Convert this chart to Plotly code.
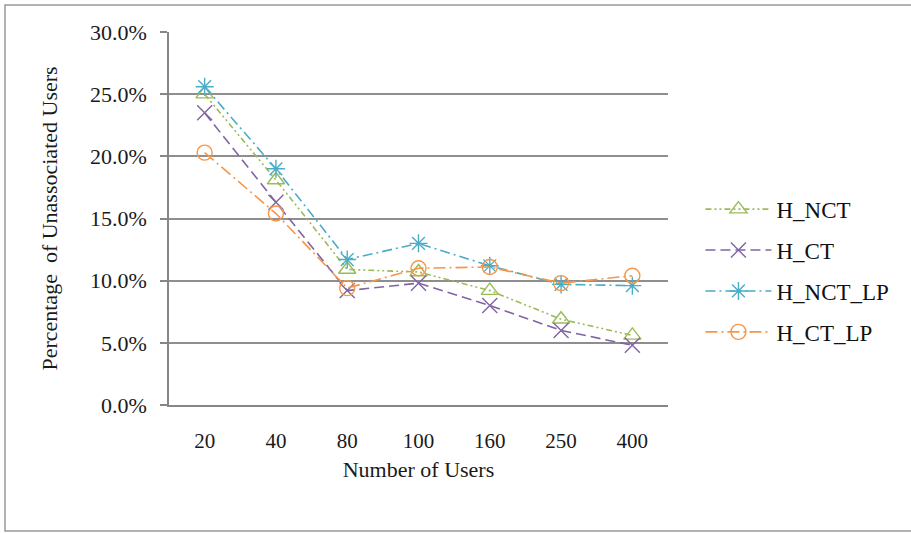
import plotly.graph_objects as go

# Number of users (categorical x axis)
users = ["20", "40", "80", "100", "160", "250", "400"]

# Fraction of unassociated users per scheme
h_nct = [0.250, 0.181, 0.109, 0.107, 0.092, 0.069, 0.056]
h_ct = [0.235, 0.163, 0.092, 0.098, 0.080, 0.060, 0.048]
h_nct_lp = [0.256, 0.190, 0.117, 0.130, 0.112, 0.097, 0.096]
h_ct_lp = [0.203, 0.154, 0.094, 0.110, 0.111, 0.098, 0.104]

y_ticks = [0.0, 0.05, 0.10, 0.15, 0.20, 0.25, 0.30]

W, H = 911, 533
L, R, T, B = 169, 243, 32, 128

series = [
    ("H_NCT", h_nct, "#9BBB59", "triangle-up-open", "6px,3px,2px,3px,2px,3px"),
    ("H_CT", h_ct, "#8064A2", "x-thin-open", "10px,5px"),
    ("H_NCT_LP", h_nct_lp, "#4BACC6", "asterisk-open", "10px,4px,2px,4px"),
    ("H_CT_LP", h_ct_lp, "#F79646", "circle-open", "12px,4px,2px,4px"),
]

fig = go.Figure()
for i, (name, vals, color, symbol, dash) in enumerate(series):
    fig.add_trace(go.Scatter(
        x=users, y=vals, name=name, mode="lines+markers",
        legendgroup=f"g{i}",
        line=dict(color=color, width=1.6, dash=dash),
        marker=dict(symbol=symbol, size=15,
                    line=dict(color=color, width=1.4), color=color),
    ))

serif = "Liberation Serif"

fig.update_layout(
    width=W, height=H,
    margin=dict(l=L, r=R, t=T, b=B),
    paper_bgcolor="white", plot_bgcolor="white",
    font=dict(family=serif, color="#1a1a1a", size=21),
    showlegend=True,
    legend=dict(
        x=1.065, y=0.36, xanchor="left", yanchor="middle",
        font=dict(family=serif, size=23, color="#111111"),
        traceorder="grouped", tracegroupgap=8,
        itemwidth=66, bgcolor="rgba(0,0,0,0)",
    ),
    xaxis=dict(
        type="category", categoryorder="array", categoryarray=users,
        showgrid=False, showline=True, linecolor="#868686", linewidth=1.5,
        ticks="", tickfont=dict(family=serif, size=21),
        ticklabelstandoff=16,
        title=dict(text="Number of Users", font=dict(family=serif, size=22),
                   standoff=10),
        range=[-0.5, len(users) - 0.5],
    ),
    yaxis=dict(
        range=[0, 0.30], tickvals=y_ticks, tickformat=".1%",
        showgrid=True, gridcolor="#8E8E8E", gridwidth=1.5,
        showline=True, linecolor="#868686", linewidth=1.5,
        ticks="outside", ticklen=7, tickcolor="#868686", tickwidth=1.5,
        tickfont=dict(family=serif, size=22),
        ticklabelstandoff=9,
        zeroline=False,
        title=dict(text="Percentage  of Unassociated Users",
                   font=dict(family=serif, size=22), standoff=26),
    ),
)

# Outer chart frame
pw = W - L - R
ph = H - T - B
fig.add_shape(
    type="rect", xref="paper", yref="paper",
    x0=(5 - L) / pw, x1=(W + 5 - L) / pw,
    y0=(H - 531 - B) / ph, y1=(H - 5 - B) / ph,
    line=dict(color="#9A9A9A", width=1.5), fillcolor="rgba(0,0,0,0)",
    layer="below",
)

fig.write_html("out.html")
